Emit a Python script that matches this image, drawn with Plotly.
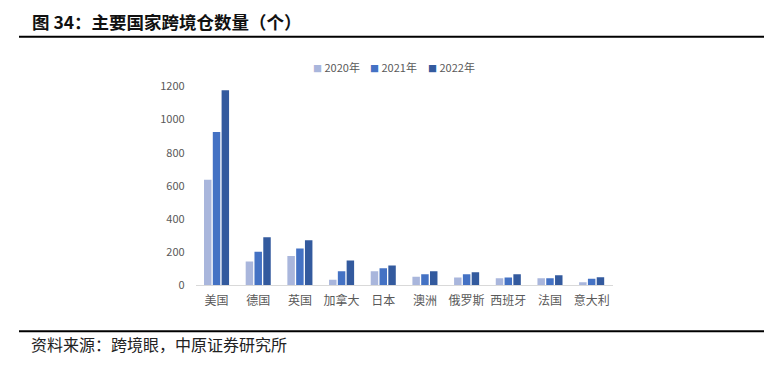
import plotly.graph_objects as go

categories = ["美国", "德国", "英国", "加拿大", "日本", "澳洲", "俄罗斯", "西班牙", "法国", "意大利"]
series_names = ["2020年", "2021年", "2022年"]
v2020 = [638, 144, 177, 35, 86, 52, 48, 44, 44, 19]
v2021 = [925, 203, 223, 85, 104, 67, 67, 48, 44, 40]
v2022 = [1177, 290, 272, 150, 121, 86, 79, 67, 61, 50]
y_ticks = [0, 200, 400, 600, 800, 1000, 1200]

colors = ["#A9B6DC", "#4472C4", "#335A9E"]
font_cjk = "Noto Sans CJK SC"

W, H = 783, 368

fig = go.Figure()
for name, vals, c in zip(series_names, [v2020, v2021, v2022], colors):
    fig.add_trace(go.Bar(x=categories, y=vals, name=name, showlegend=False,
                         marker=dict(color=c, line=dict(width=0))))

legend_ids = ["legend", "legend2", "legend3"]
legend_text_x = [313, 370, 428]
for name, c, lid in zip(series_names, colors, legend_ids):
    label = f"<span style='color:{c};font-size:9px'>■</span> {name}"
    fig.add_trace(go.Scatter(x=[None], y=[None], mode="markers", name=label, legend=lid,
                             marker=dict(symbol="square", size=1, color="rgba(0,0,0,0)"),
                             showlegend=True))

legend_common = dict(orientation="h", yanchor="middle", y=(H - 61) / H, xanchor="left",
                     font=dict(size=11, color="#595959"), itemwidth=30,
                     bgcolor="rgba(0,0,0,0)", borderwidth=0)
legends = {}
for lid, tx in zip(legend_ids, legend_text_x):
    legends[lid] = dict(legend_common, x=(tx - 40) / W)

fig.update_layout(
    width=W, height=H,
    margin=dict(l=0, r=0, t=0, b=0),
    paper_bgcolor="white", plot_bgcolor="white",
    barmode="group", bargap=0.367, bargroupgap=0.15,
    font=dict(family=font_cjk, size=11, color="#595959"),
    xaxis=dict(domain=[195.7/W, 612.5/W], showline=True, linecolor="#D9D9D9", linewidth=1,
               ticks="", tickfont=dict(size=12, color="#595959"), ticklabelstandoff=4,
               fixedrange=True),
    yaxis=dict(domain=[(H-289)/H, (H-81)/H], range=[0, 1200], tickvals=y_ticks,
               showgrid=False, zeroline=False, ticks="", ticklabelstandoff=10,
               tickfont=dict(size=11, color="#595959"), fixedrange=True),
    showlegend=True,
    **legends,
)

fig.add_annotation(text="<b>图 34：主要国家跨境仓数量（个）</b>", xref="paper", yref="paper",
                   x=30/W, y=(H-13)/H, xanchor="left", yanchor="middle", showarrow=False,
                   font=dict(family=font_cjk, size=17.5, color="#111111"))
fig.add_annotation(text="资料来源：跨境眼，中原证券研究所", xref="paper", yref="paper",
                   x=29/W, y=(H-350.5)/H, xanchor="left", yanchor="middle", showarrow=False,
                   font=dict(family=font_cjk, size=16, color="#222222"))
fig.add_shape(type="line", xref="paper", yref="paper", x0=19/W, x1=764/W,
              y0=(H-29)/H, y1=(H-29)/H, line=dict(color="black", width=2))
fig.add_shape(type="line", xref="paper", yref="paper", x0=19/W, x1=764/W,
              y0=(H-337)/H, y1=(H-337)/H, line=dict(color="black", width=2))

fig.write_html("out.html", config={"displayModeBar": False},
               post_script="document.body.style.margin='0';document.body.style.overflow='hidden';")
